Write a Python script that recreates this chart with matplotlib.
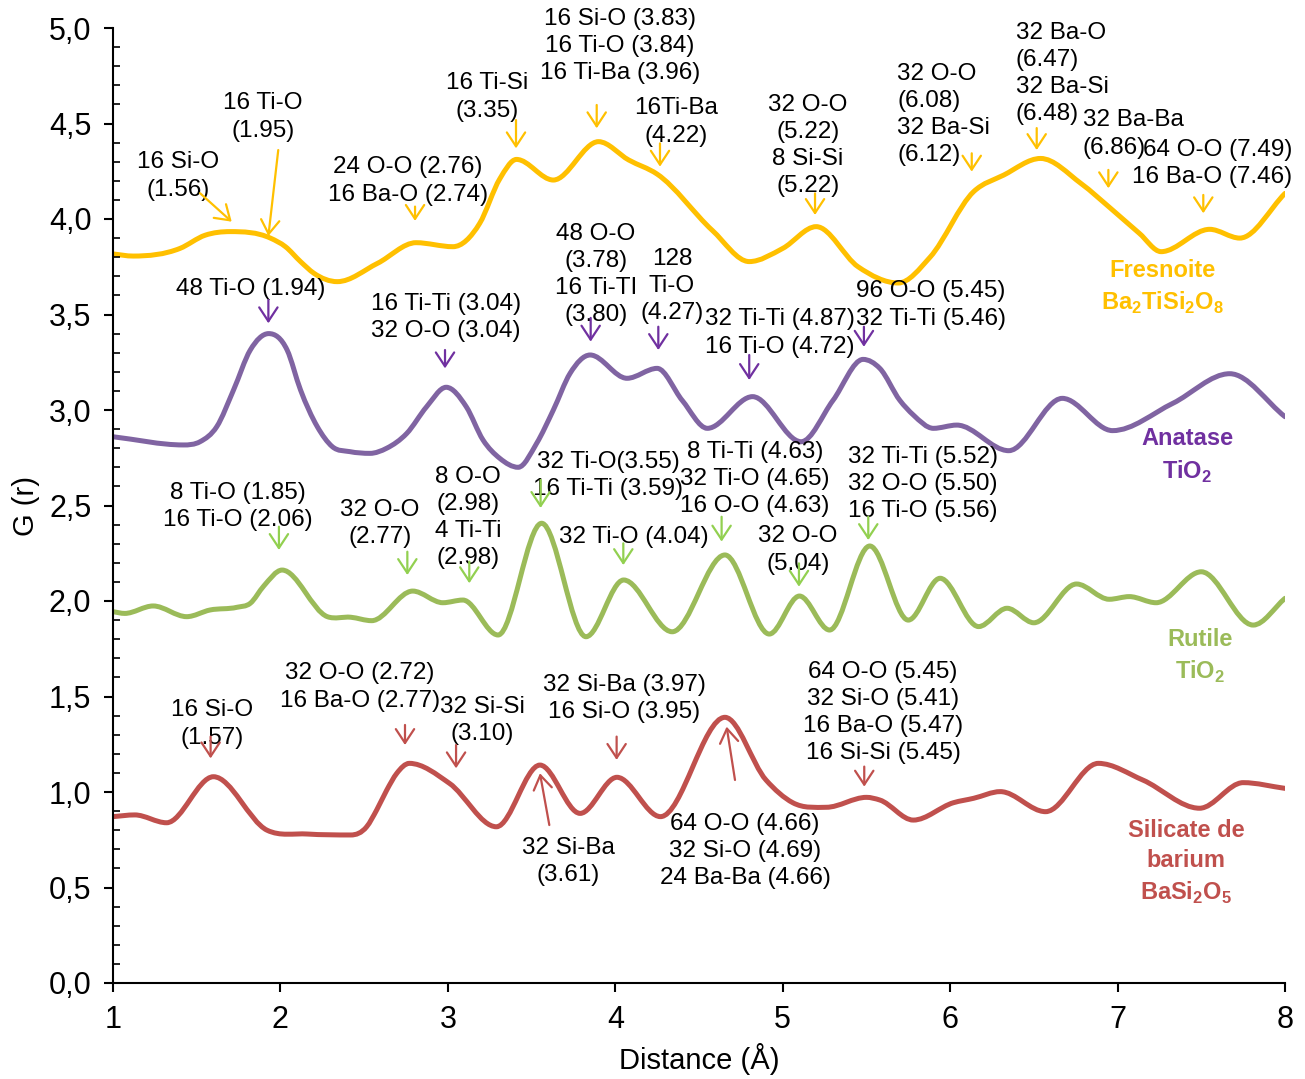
import numpy as np
import matplotlib
matplotlib.use('Agg')
import matplotlib.pyplot as plt
from matplotlib.path import Path
from matplotlib.patches import PathPatch
from matplotlib.ticker import MultipleLocator

plt.rcParams['font.family'] = ['Liberation Sans', 'DejaVu Sans']
plt.rcParams['mathtext.fontset'] = 'custom'
plt.rcParams['mathtext.rm'] = 'Liberation Sans'
plt.rcParams['mathtext.bf'] = 'Liberation Sans:bold'

# G(r) curves (distance in A, G offset per phase)
fres_x = [1.00, 1.12, 1.40, 1.55, 1.70, 1.94, 2.03, 2.12, 2.20, 2.34, 2.58, 2.81, 3.03, 3.19,
          3.31, 3.41, 3.63, 3.90, 4.08, 4.25, 4.58, 4.80, 5.00, 5.20, 5.45, 5.69, 5.88, 6.14,
          6.32, 6.54, 6.78, 6.97, 7.13, 7.26, 7.55, 7.73, 8.00]
fres_y = [3.817, 3.806, 3.846, 3.915, 3.934, 3.90, 3.855, 3.777, 3.716, 3.672, 3.768, 3.876,
          3.855, 3.977, 4.21, 4.312, 4.204, 4.405, 4.309, 4.235, 3.94, 3.777, 3.846, 3.96, 3.75,
          3.665, 3.80, 4.143, 4.23, 4.317, 4.187, 4.047, 3.925, 3.829, 3.946, 3.90, 4.134]

ana_x = [1.00, 1.42, 1.52, 1.62, 1.72, 1.82, 1.93, 2.04, 2.12, 2.22, 2.31, 2.415, 2.535, 2.635,
         2.754, 2.873, 2.99, 3.11, 3.21, 3.31, 3.42, 3.53, 3.63, 3.73, 3.85, 4.07, 4.25, 4.40,
         4.55, 4.82, 5.11, 5.30, 5.48, 5.58, 5.70, 5.78, 5.90, 6.04, 6.35, 6.67, 6.97, 7.33,
         7.67, 8.00]
ana_y = [2.86, 2.817, 2.834, 2.913, 3.105, 3.314, 3.40, 3.314, 3.105, 2.913, 2.808, 2.782,
         2.773, 2.80, 2.877, 3.017, 3.119, 3.017, 2.843, 2.747, 2.70, 2.825, 3.0, 3.192, 3.288,
         3.166, 3.218, 3.05, 2.904, 3.07, 2.834, 3.05, 3.265, 3.218, 3.05, 2.974, 2.904, 2.921,
         2.787, 3.061, 2.892, 3.035, 3.19, 2.965]

rut_x = [1.00, 1.07, 1.24, 1.44, 1.58, 1.74, 1.82, 1.90, 2.01, 2.28, 2.42, 2.545, 2.79, 2.97,
         3.09, 3.30, 3.56, 3.825, 4.05, 4.34, 4.655, 4.92, 5.10, 5.28, 5.52, 5.75, 5.94, 6.17,
         6.34, 6.50, 6.755, 6.95, 7.07, 7.23, 7.50, 7.81, 8.00]
rut_y = [1.944, 1.935, 1.974, 1.918, 1.953, 1.967, 1.988, 2.078, 2.162, 1.918, 1.915, 1.897,
         2.052, 1.991, 2.005, 1.822, 2.407, 1.813, 2.11, 1.839, 2.241, 1.827, 2.026, 1.848,
         2.288, 1.90, 2.119, 1.866, 1.962, 1.886, 2.089, 2.009, 2.023, 1.991, 2.153, 1.874, 2.014]

sil_x = [1.00, 1.13, 1.32, 1.60, 1.92, 2.16, 2.42, 2.515, 2.575, 2.635, 2.695, 2.77, 3.01, 3.29,
         3.55, 3.79, 4.01, 4.27, 4.655, 4.90, 5.06, 5.26, 5.50, 5.58, 5.78, 6.02, 6.14, 6.30,
         6.57, 6.885, 7.15, 7.49, 7.75, 8.00]
sil_y = [0.871, 0.88, 0.839, 1.08, 0.80, 0.78, 0.775, 0.818, 0.906, 1.01, 1.098, 1.15, 1.045,
         0.818, 1.141, 0.888, 1.077, 0.871, 1.391, 1.063, 0.944, 0.92, 0.972, 0.958, 0.853,
         0.944, 0.967, 1.002, 0.897, 1.15, 1.063, 0.915, 1.049, 1.019]

# annotations: text, text position, alignment, arrow tail, arrow head
fres_notes = [
    ("16 Si-O\n(1.56)", (1.388, 4.225), 'center', (1.52, 4.135), (1.709, 3.986)),
    ("16 Ti-O\n(1.95)", (1.896, 4.534), 'center', (1.987, 4.361), (1.928, 3.911)),
    ("24 O-O (2.76)\n16 Ba-O (2.74)", (2.762, 4.199), 'center', (2.804, 4.065), (2.804, 3.99)),
    ("16 Ti-Si\n(3.35)", (3.234, 4.639), 'center', (3.407, 4.518), (3.407, 4.37)),
    ("16 Si-O (3.83)\n16 Ti-O (3.84)\n16 Ti-Ba (3.96)", (4.028, 4.906), 'center', (3.889, 4.597), (3.889, 4.475)),
    ("16Ti-Ba\n(4.22)", (4.363, 4.508), 'center', (4.267, 4.396), (4.267, 4.274)),
    ("32 O-O\n(5.22)\n8 Si-Si\n(5.22)", (5.151, 4.385), 'center', (5.193, 4.134), (5.193, 4.021)),
    ("32 O-O\n(6.08)\n32 Ba-Si\n(6.12)", (5.683, 4.547), 'left', (6.129, 4.344), (6.129, 4.248)),
    ("32 Ba-O\n(6.47)\n32 Ba-Si\n(6.48)", (6.393, 4.762), 'left', (6.517, 4.476), (6.517, 4.361)),
    ("32 Ba-Ba\n(6.86)", (6.793, 4.445), 'left', (6.945, 4.257), (6.945, 4.161)),
    ("64 O-O (7.49)\n16 Ba-O (7.46)", (8.042, 4.291), 'right', (7.512, 4.126), (7.512, 4.03)),
]
ana_notes = [
    ("48 Ti-O (1.94)", (1.824, 3.634), 'center', (1.928, 3.576), (1.928, 3.454)),
    ("16 Ti-Ti (3.04)\n32 O-O (3.04)", (2.989, 3.482), 'center', (2.983, 3.314), (2.983, 3.218)),
    ("48 O-O\n(3.78)\n16 Ti-TI\n(3.80)", (3.885, 3.709), 'center', (3.853, 3.482), (3.853, 3.358)),
    ("128\nTi-O\n(4.27)", (4.339, 3.649), 'center', (4.257, 3.436), (4.257, 3.314)),
    ("32 Ti-Ti (4.87)\n16 Ti-O (4.72)", (4.984, 3.403), 'center', (4.80, 3.288), (4.80, 3.157)),
    ("96 O-O (5.45)\n32 Ti-Ti (5.46)", (5.886, 3.55), 'center', (5.485, 3.436), (5.485, 3.331)),
]
rut_notes = [
    ("8 Ti-O (1.85)\n16 Ti-O (2.06)", (1.747, 2.497), 'center', (1.991, 2.389), (1.991, 2.267)),
    ("32 O-O\n(2.77)", (2.595, 2.408), 'center', (2.758, 2.258), (2.758, 2.136)),
    ("8 O-O\n(2.98)\n4 Ti-Ti\n(2.98)", (3.12, 2.437), 'center', (3.128, 2.206), (3.128, 2.093)),
    ("32 Ti-O(3.55)\n16 Ti-Ti (3.59)", (3.956, 2.657), 'center', (3.554, 2.634), (3.554, 2.487)),
    ("32 Ti-O (4.04)", (4.112, 2.335), 'center', (4.048, 2.302), (4.048, 2.188)),
    ("8 Ti-Ti (4.63)\n32 Ti-O (4.65)\n16 O-O (4.63)", (4.834, 2.639), 'center', (4.635, 2.441), (4.635, 2.311)),
    ("32 O-O\n(5.04)", (5.091, 2.267), 'center', (5.097, 2.197), (5.097, 2.075)),
    ("32 Ti-Ti (5.52)\n32 O-O (5.50)\n16 Ti-O (5.56)", (5.838, 2.614), 'center', (5.511, 2.441), (5.511, 2.319)),
]
sil_notes = [
    ("16 Si-O\n(1.57)", (1.591, 1.356), 'center', (1.583, 1.29), (1.583, 1.176)),
    ("32 O-O (2.72)\n16 Ba-O (2.77)", (2.475, 1.55), 'center', (2.744, 1.351), (2.744, 1.246)),
    ("32 Si-Si\n(3.10)", (3.204, 1.372), 'center', (3.049, 1.246), (3.049, 1.124)),
    ("32 Si-Ba (3.97)\n16 Si-O (3.95)", (4.052, 1.49), 'center', (4.008, 1.29), (4.008, 1.168)),
    ("32 Si-Ba\n(3.61)", (3.718, 0.636), 'center', (3.606, 0.827), (3.55, 1.098)),
    ("64 O-O (4.66)\n32 Si-O (4.69)\n24 Ba-Ba (4.66)", (4.775, 0.691), 'center', (4.715, 1.063), (4.665, 1.342)),
    ("64 O-O (5.45)\n32 Si-O (5.41)\n16 Ba-O (5.47)\n16 Si-Si (5.45)", (5.599, 1.416), 'center', (5.487, 1.133), (5.487, 1.028)),
]

series = [
    (fres_x, fres_y, '#FFC000', '#FFC000', fres_notes,
     "Fresnoite\nBa$_\\mathbf{2}$TiSi$_\\mathbf{2}$O$_\\mathbf{8}$", (7.271, 3.641), '#FFC000'),
    (ana_x, ana_y, '#8064A2', '#7030A0', ana_notes,
     "Anatase\nTiO$_\\mathbf{2}$", (7.415, 2.759), '#7030A0'),
    (rut_x, rut_y, '#9BBB59', '#92D050', rut_notes,
     "Rutile\nTiO$_\\mathbf{2}$", (7.492, 1.709), '#9BBB59'),
    (sil_x, sil_y, '#C0504D', '#C0504D', sil_notes,
     "Silicate de\nbarium\nBaSi$_\\mathbf{2}$O$_\\mathbf{5}$", (7.409, 0.631), '#C0504D'),
]


def smooth_path(xs, ys):
    # smooth cubic through the points (3-point slopes, flat at local extrema)
    x = np.asarray(xs, float)
    y = np.asarray(ys, float)
    h = np.diff(x)
    d = np.diff(y) / h
    m = np.zeros(len(x))
    m[0], m[-1] = d[0], d[-1]
    for k in range(1, len(x) - 1):
        if d[k - 1] * d[k] > 0:
            m[k] = (h[k] * d[k - 1] + h[k - 1] * d[k]) / (h[k - 1] + h[k])
    verts = [(x[0], y[0])]
    codes = [Path.MOVETO]
    for k in range(len(x) - 1):
        verts += [(x[k] + h[k] / 3, y[k] + m[k] * h[k] / 3),
                  (x[k + 1] - h[k] / 3, y[k + 1] - m[k + 1] * h[k] / 3),
                  (x[k + 1], y[k + 1])]
        codes += [Path.CURVE4] * 3
    return Path(verts, codes)


fig = plt.figure(figsize=(13.05, 10.79), dpi=100)
ax = fig.add_axes([113 / 1305, 1 - 983 / 1079, 1172 / 1305, 955 / 1079])

for xs, ys, lc, ac, notes, label, lpos, tc in series:
    ax.add_patch(PathPatch(smooth_path(xs, ys), facecolor='none', edgecolor=lc,
                           lw=3.6, capstyle='round', joinstyle='round'))
    for txt, tpos, ha, tail, head in notes:
        ax.text(tpos[0], tpos[1], txt, ha=ha, va='center', fontsize=17.5,
                linespacing=1.3, multialignment=ha)
        ax.annotate('', xy=head, xytext=tail,
                    arrowprops=dict(arrowstyle='->,head_length=0.5,head_width=0.33',
                                    color=ac, lw=1.6, shrinkA=0, shrinkB=0,
                                    mutation_scale=20))
    ax.text(lpos[0], lpos[1], label, color=tc, fontweight='bold', fontsize=17,
            ha='center', va='center', linespacing=1.4)

ax.set_xlim(1, 8)
ax.set_ylim(0, 5)
ax.set_xticks(range(1, 9))
yt = np.arange(0, 5.01, 0.5)
ax.set_yticks(yt)
ax.set_yticklabels([f"{v:.1f}".replace('.', ',') for v in yt])
ax.yaxis.set_minor_locator(MultipleLocator(0.1))
ax.tick_params(axis='both', which='major', labelsize=22, direction='out', length=6.5,
               width=1.5)
ax.tick_params(axis='y', which='major', pad=9)
ax.tick_params(axis='x', which='major', pad=9)
ax.tick_params(axis='y', which='minor', direction='in', length=5, width=1.2)
ax.spines['top'].set_visible(False)
ax.spines['right'].set_visible(False)
ax.spines['left'].set_linewidth(1.5)
ax.spines['bottom'].set_linewidth(1.5)
ax.set_xlabel('Distance (Å)', fontsize=21, labelpad=6)
ax.set_ylabel('G (r)', fontsize=21, labelpad=6)

fig.savefig('out.png', dpi=100)
